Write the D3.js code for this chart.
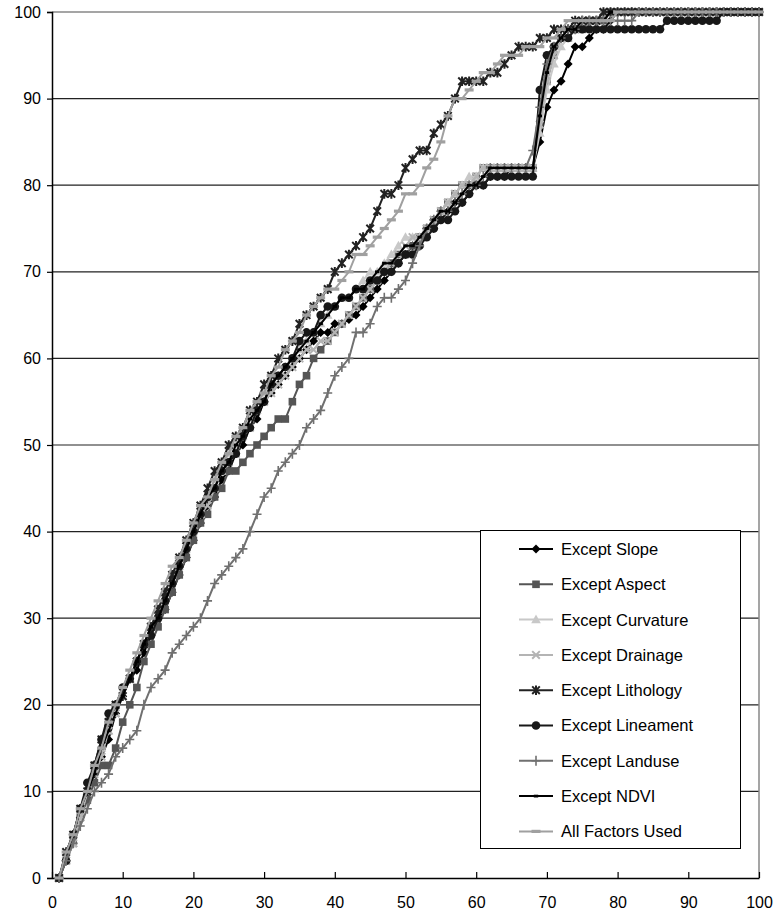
<!DOCTYPE html>
<html lang="en">
<head>
    <meta charset="UTF-8">
    <title>Success rate curves</title>
    <style>
        body { margin: 0; background: #fff; }
        text { font-family: "Liberation Sans", Arial, sans-serif; fill: #000; }
    </style>
</head>
<body>
    <script src="https://d3js.org/d3.v7.min.js"></script>
    <script>
        // percentage of area (x) shared by every series
        const areaPct = [
            1, 2, 3, 4, 5, 6, 7, 8, 9, 10, 11, 12, 13, 14, 15, 16, 17, 18, 19, 20,
            21, 22, 23, 24, 25, 26, 27, 28, 29, 30, 31, 32, 33, 34, 35, 36, 37, 38, 39, 40,
            41, 42, 43, 44, 45, 46, 47, 48, 49, 50, 51, 52, 53, 54, 55, 56, 57, 58, 59, 60,
            61, 62, 63, 64, 65, 66, 67, 68, 69, 70, 71, 72, 73, 74, 75, 76, 77, 78, 79, 80,
            81, 82, 83, 84, 85, 86, 87, 88, 89, 90, 91, 92, 93, 94, 95, 96, 97, 98, 99, 100];

        const exceptSlope = [
            0, 2, 5, 7, 10, 12, 14, 16, 19, 21, 23, 24, 26, 28, 30, 31, 33, 35, 37, 39,
            41, 43, 44, 46, 47, 49, 50, 52, 53, 55, 56, 57, 58, 59, 60, 61, 62, 63, 63, 64,
            64, 64.5, 65, 66, 67, 68, 69, 70, 71, 72, 73, 74, 75, 75, 76, 77, 78, 78, 79, 80,
            80, 81, 81, 81, 82, 82, 82, 82, 85, 89, 91, 92, 94, 96, 96, 97, 98, 98, 99, 100,
            100, 100, 100, 100, 100, 100, 100, 100, 100, 100, 100, 100, 100, 100, 100, 100, 100, 100, 100, 100];
        const exceptAspect = [
            0, 2, 4, 7, 9, 11, 13, 13, 15, 18, 20, 22, 25, 27, 29, 31, 33, 35, 37, 39,
            41, 42, 44, 45, 47, 47, 48, 49, 50, 51, 52, 53, 53, 55, 57, 58, 60, 61, 62, 63,
            64, 65, 66, 67, 68, 69, 70, 71, 72, 72, 73, 74, 75, 76, 77, 78, 79, 80, 80, 81,
            82, 82, 82, 82, 82, 82, 82, 82, 87, 92, 95, 97, 97, 98, 98, 99, 99, 99, 100, 100,
            100, 100, 100, 100, 100, 100, 100, 100, 100, 100, 100, 100, 100, 100, 100, 100, 100, 100, 100, 100];
        const exceptCurvature = [
            0, 2, 4, 7, 10, 13, 15, 17, 19, 21, 23, 25, 27, 29, 31, 33, 35, 37, 39, 41,
            42, 44, 46, 47, 49, 50, 52, 53, 55, 56, 57, 58, 59, 60, 61, 62, 63, 64, 65, 66,
            67, 67, 68, 69, 70, 70, 71, 72, 73, 74, 74, 74, 75, 76, 77, 78, 79, 80, 81, 81,
            82, 82, 82, 82, 82, 82, 82, 82, 86, 91, 94, 96, 97, 98, 99, 99, 99, 100, 100, 100,
            100, 100, 100, 100, 100, 100, 100, 100, 100, 100, 100, 100, 100, 100, 100, 100, 100, 100, 100, 100];
        const exceptDrainage = [
            0, 2, 4, 7, 10, 12, 14, 17, 19, 21, 23, 25, 27, 29, 31, 33, 35, 36, 38, 40,
            42, 43, 45, 47, 48, 49, 51, 52, 54, 55, 56, 57, 58, 59, 60, 61, 61, 62, 62, 63,
            64, 65, 66, 67, 68, 69, 70, 71, 72, 73, 74, 74, 75, 76, 77, 78, 79, 80, 80, 81,
            82, 82, 82, 82, 82, 82, 82, 82, 87, 92, 95, 97, 98, 98, 99, 99, 99, 100, 100, 100,
            100, 100, 100, 100, 100, 100, 100, 100, 100, 100, 100, 100, 100, 100, 100, 100, 100, 100, 100, 100];
        const exceptLithology = [
            0, 3, 5, 8, 10, 13, 16, 18, 20, 21, 23, 25, 27, 29, 31, 33, 35, 37, 39, 41,
            43, 45, 47, 48, 50, 51, 52, 54, 55, 57, 58, 60, 61, 62, 64, 65, 66, 67, 68, 70,
            71, 72, 73, 74, 75, 77, 79, 79, 80, 82, 83, 84, 84, 86, 87, 88, 90, 92, 92, 92,
            92, 93, 93, 94, 95, 96, 96, 96, 97, 97, 98, 98, 98, 99, 99, 99, 99, 100, 100, 100,
            100, 100, 100, 100, 100, 100, 100, 100, 100, 100, 100, 100, 100, 100, 100, 100, 100, 100, 100, 100];
        const exceptLineament = [
            0, 2, 5, 8, 11, 13, 16, 19, 20, 22, 23, 25, 27, 28, 30, 32, 34, 36, 38, 40,
            42, 44, 45, 47, 48, 49, 51, 52, 54, 55, 57, 58, 59, 60, 62, 63, 63, 65, 66, 66,
            67, 67, 68, 68, 69, 69, 70, 70, 71, 72, 72, 73, 74, 75, 76, 76, 77, 78, 79, 80,
            80, 81, 81, 81, 81, 81, 81, 81, 91, 95, 96, 97, 97, 98, 98, 98, 98, 98, 98, 98,
            98, 98, 98, 98, 98, 98, 99, 99, 99, 99, 99, 99, 99, 99, 100, 100, 100, 100, 100, 100];
        const exceptLanduse = [
            0, 2, 4, 6, 8, 10, 11, 12, 14, 15, 16, 17, 20, 22, 23, 24, 26, 27, 28, 29,
            30, 32, 34, 35, 36, 37, 38, 40, 42, 44, 45, 47, 48, 49, 50, 52, 53, 54, 56, 58,
            59, 60, 63, 63, 64, 66, 67, 67, 68, 69, 71, 73, 75, 76, 77, 77, 78, 79, 80, 80,
            81, 82, 82, 82, 82, 82, 82, 84, 89, 94, 96, 97, 98, 98, 99, 99, 99, 99, 99, 99,
            99, 99, 100, 100, 100, 100, 100, 100, 100, 100, 100, 100, 100, 100, 100, 100, 100, 100, 100, 100];
        const exceptNDVI = [
            0, 3, 5, 8, 10, 12, 15, 17, 19, 21, 23, 25, 27, 29, 30, 32, 34, 36, 38, 40,
            42, 44, 45, 47, 48, 50, 51, 53, 54, 55, 57, 58, 59, 60, 61, 62, 63, 64, 65, 66,
            67, 67, 68, 68, 69, 70, 71, 71, 72, 73, 73, 74, 75, 76, 77, 77, 78, 79, 80, 80,
            81, 82, 82, 82, 82, 82, 82, 82, 88, 93, 96, 97, 98, 98, 99, 99, 99, 99, 100, 100,
            100, 100, 100, 100, 100, 100, 100, 100, 100, 100, 100, 100, 100, 100, 100, 100, 100, 100, 100, 100];
        const allFactors = [
            0, 3, 5, 8, 10, 13, 15, 18, 20, 22, 24, 26, 28, 30, 32, 34, 36, 37, 39, 41,
            43, 44, 46, 48, 49, 51, 52, 54, 55, 56, 58, 59, 61, 62, 63, 65, 66, 67, 68, 68,
            69, 70, 72, 72, 73, 74, 75, 76, 77, 79, 79, 80, 82, 83, 85, 88, 90, 90, 91, 92,
            93, 93, 94, 95, 95, 95, 96, 96, 96, 97, 97, 98, 99, 99, 99, 99, 99, 99, 99, 100,
            100, 100, 100, 100, 100, 100, 100, 100, 100, 100, 100, 100, 100, 100, 100, 100, 100, 100, 100, 100];

        const seriesNames = ["Except Slope", "Except Aspect", "Except Curvature", "Except Drainage",
            "Except Lithology", "Except Lineament", "Except Landuse", "Except NDVI", "All Factors Used"];
        const seriesValues = [exceptSlope, exceptAspect, exceptCurvature, exceptDrainage,
            exceptLithology, exceptLineament, exceptLanduse, exceptNDVI, allFactors];
        const xTicks = [0, 10, 20, 30, 40, 50, 60, 70, 80, 90, 100];
        const yTicks = [0, 10, 20, 30, 40, 50, 60, 70, 80, 90, 100];

        // look of each series
        const styles = [
            { color: "#000000", marker: "diamond" },
            { color: "#555555", marker: "square" },
            { color: "#c8c8c8", marker: "triangle" },
            { color: "#b4b4b4", marker: "cross" },
            { color: "#222222", marker: "asterisk" },
            { color: "#181818", marker: "circle" },
            { color: "#707070", marker: "plus" },
            { color: "#000000", marker: "dot" },
            { color: "#a0a0a0", marker: "dash" }
        ];

        const width = 780, height = 911;
        const plotLeft = 52, plotRight = 759, plotTop = 12, plotBottom = 878;

        const svg = d3.select("body").append("svg")
            .attr("width", width)
            .attr("height", height);

        const x = d3.scaleLinear().domain([0, 100]).range([plotLeft, plotRight]);
        const y = d3.scaleLinear().domain([0, 100]).range([plotBottom, plotTop]);

        // gridlines
        svg.append("g")
            .selectAll("line")
            .data(yTicks.filter(d => d > 0 && d < 100))
            .enter().append("line")
            .attr("x1", plotLeft).attr("x2", plotRight)
            .attr("y1", d => y(d)).attr("y2", d => y(d))
            .attr("stroke", "#222").attr("stroke-width", 1.2);

        // plot border top/right in grey
        svg.append("path")
            .attr("d", `M${plotLeft},${y(100)}H${x(100)}V${y(0)}`)
            .attr("fill", "none")
            .attr("stroke", "#888").attr("stroke-width", 1.5);

        // y axis
        const yAxis = svg.append("g")
            .attr("transform", `translate(${plotLeft},0)`)
            .call(d3.axisLeft(y).tickValues(yTicks).tickSize(5).tickPadding(6));
        yAxis.select(".domain").attr("stroke", "#000").attr("stroke-width", 1.5);
        yAxis.selectAll(".tick line").attr("stroke", "#000").attr("stroke-width", 1.2);
        yAxis.selectAll("text").style("font-size", "16px").attr("fill", "#000");

        // x axis, ticks pointing inward
        const xAxis = svg.append("g")
            .attr("transform", `translate(0,${plotBottom})`)
            .call(d3.axisBottom(x).tickValues(xTicks).tickSizeInner(-6).tickSizeOuter(0).tickPadding(12));
        xAxis.select(".domain").attr("stroke", "#000").attr("stroke-width", 1.5);
        xAxis.selectAll(".tick line").attr("stroke", "#000").attr("stroke-width", 1.2);
        xAxis.selectAll("text").style("font-size", "16px").attr("fill", "#000").attr("dy", "1.1em");

        // marker drawing
        function drawMarker(g, type, color) {
            if (type === "diamond") {
                g.append("path").attr("d", "M0,-4.5L4.5,0L0,4.5L-4.5,0Z").attr("fill", color);
            } else if (type === "square") {
                g.append("rect").attr("x", -3.8).attr("y", -3.8).attr("width", 7.6).attr("height", 7.6).attr("fill", color);
            } else if (type === "triangle") {
                g.append("path").attr("d", "M0,-5L4.8,3.6L-4.8,3.6Z").attr("fill", color);
            } else if (type === "cross") {
                g.append("path").attr("d", "M-3.8,-3.8L3.8,3.8M-3.8,3.8L3.8,-3.8")
                    .attr("stroke", color).attr("stroke-width", 2).attr("fill", "none");
            } else if (type === "asterisk") {
                g.append("path").attr("d", "M-3.8,-3.8L3.8,3.8M-3.8,3.8L3.8,-3.8M0,-4.8V4.8")
                    .attr("stroke", color).attr("stroke-width", 2).attr("fill", "none");
            } else if (type === "circle") {
                g.append("circle").attr("r", 4.3).attr("fill", color);
            } else if (type === "plus") {
                g.append("path").attr("d", "M-4.5,0H4.5M0,-5V5")
                    .attr("stroke", color).attr("stroke-width", 1.6).attr("fill", "none");
            } else if (type === "dot") {
                g.append("rect").attr("x", -2.2).attr("y", -1.4).attr("width", 4.4).attr("height", 2.8).attr("fill", color);
            } else if (type === "dash") {
                g.append("rect").attr("x", -4.5).attr("y", -1.6).attr("width", 9).attr("height", 3.2).attr("fill", color);
            }
        }

        const line = d3.line()
            .x(d => x(d[0]))
            .y(d => y(d[1]));

        seriesValues.forEach(function (vals, i) {
            const st = styles[i];
            const pts = vals.map((v, j) => [areaPct[j], v]);
            const g = svg.append("g");
            g.append("path")
                .datum(pts)
                .attr("fill", "none")
                .attr("stroke", st.color)
                .attr("stroke-width", 2)
                .attr("d", line);
            g.selectAll("g.m")
                .data(pts)
                .enter().append("g")
                .attr("class", "m")
                .attr("transform", d => `translate(${x(d[0])},${y(d[1])})`)
                .each(function () { drawMarker(d3.select(this), st.marker, st.color); });
        });

        // legend
        const legend = svg.append("g");
        legend.append("rect")
            .attr("x", 480.5).attr("y", 530.5)
            .attr("width", 260).attr("height", 318)
            .attr("fill", "#fff").attr("stroke", "#000").attr("stroke-width", 1);
        seriesNames.forEach(function (name, i) {
            const ly = 549 + i * 35.3;
            const st = styles[i];
            legend.append("line")
                .attr("x1", 519).attr("x2", 553)
                .attr("y1", ly).attr("y2", ly)
                .attr("stroke", st.color).attr("stroke-width", 2);
            const mg = legend.append("g").attr("transform", `translate(536,${ly})`);
            drawMarker(mg, st.marker, st.color);
            legend.append("text")
                .attr("x", 561).attr("y", ly)
                .attr("dy", "0.36em")
                .style("font-size", "16.5px")
                .text(name);
        });
    </script>
</body>
</html>
